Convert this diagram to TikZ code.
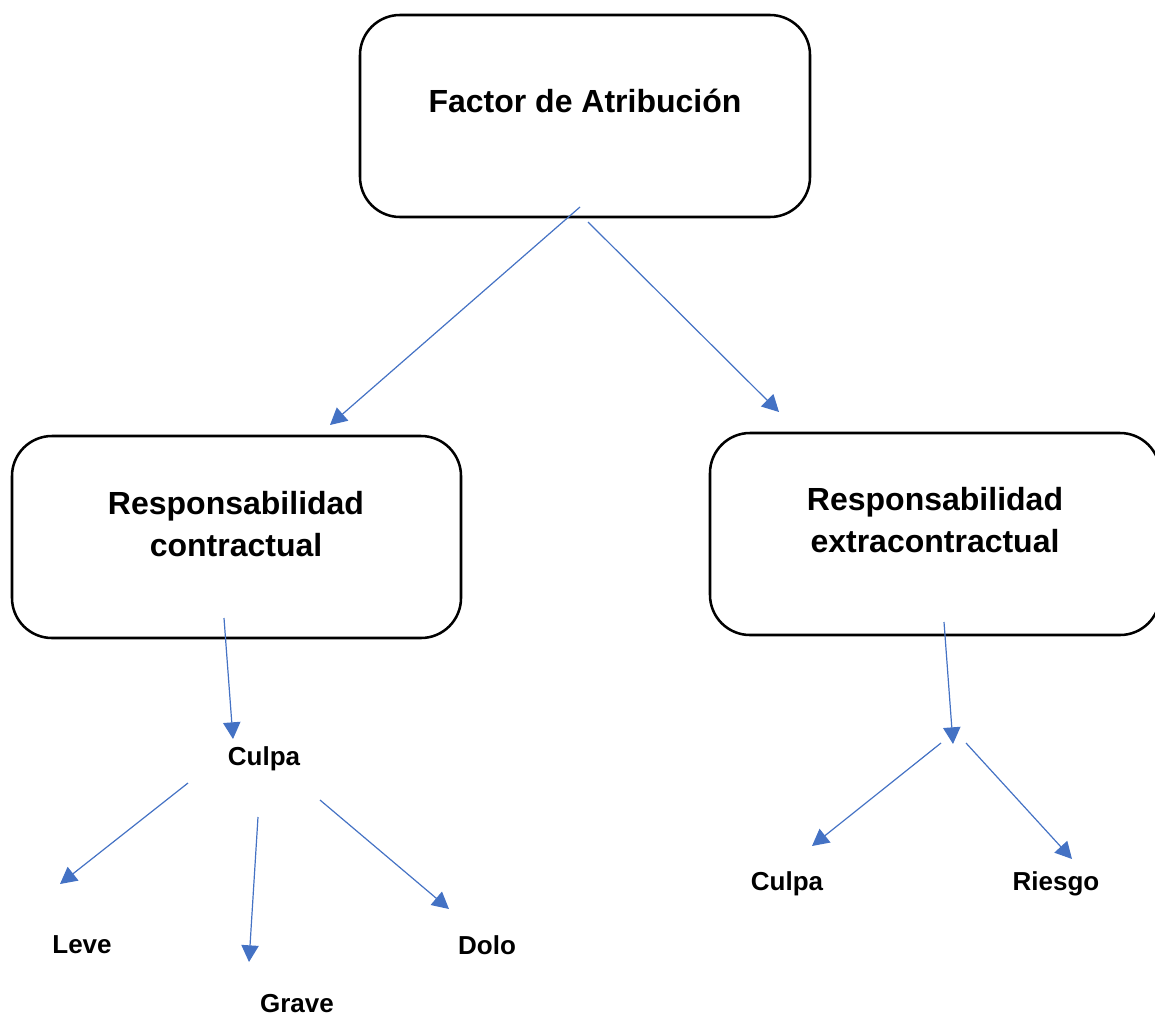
\documentclass[tikz,border=0pt]{standalone}
\usepackage{fontspec}
\setmainfont{Liberation Sans}
\usetikzlibrary{arrows.meta,calc}

\definecolor{flecha}{RGB}{68,114,196}
\tikzset{
  caja/.style={draw=black,line width=1.9pt,rounded corners=30pt},
  titulo/.style={font=\fontsize{24}{32}\selectfont\bfseries,align=center},
  hoja/.style={font=\fontsize{19.5}{24}\selectfont\bfseries},
  fl/.style={draw=flecha,line width=0.9pt,-{Triangle[length=12.5pt,width=13pt]}}
}

\begin{document}
\begin{tikzpicture}[x=0.75pt,y=-0.75pt]
  \useasboundingbox (0,0) rectangle (1155,1017);
  %CAJAS
  \draw[caja] (360,15) rectangle (810,217);
  \draw[caja] (12,436) rectangle (461,638);
  \draw[caja] (710,433) rectangle (1160,635);
  \node[titulo] (factor) at (585,101) {Factor de Atribución};
  \node[titulo] (contr) at (236,524) {Responsabilidad\\contractual};
  \node[titulo] (extra) at (935,520) {Responsabilidad\\extracontractual};
  %HOJAS
  \node[hoja] (culpaA) at (264,759) {Culpa};
  \node[hoja] (leve) at (82,945) {Leve};
  \node[hoja] (grave) at (297,1004) {Grave};
  \node[hoja] (dolo) at (487,945) {Dolo};
  \node[hoja] (culpaB) at (787,884) {Culpa};
  \node[hoja] (riesgo) at (1056,884) {Riesgo};
  %PUNTOS DE LAS FLECHAS
  \coordinate (f1) at (580,207);  \coordinate (c1) at (330,425);
  \coordinate (f2) at (588,222);  \coordinate (e1) at (779,412);
  \coordinate (c2) at (224,618);  \coordinate (ca1) at (233,739);
  \coordinate (e2) at (944,622);  \coordinate (m) at (953,744);
  \coordinate (m1) at (941,743);  \coordinate (cb1) at (812,846);
  \coordinate (m2) at (966,743);  \coordinate (r1) at (1072,859);
  \coordinate (ca2) at (188,783); \coordinate (l1) at (60,884);
  \coordinate (ca3) at (258,817); \coordinate (g1) at (249,962);
  \coordinate (ca4) at (320,800); \coordinate (d1) at (449,909);
  %FLECHAS
  \draw[fl] (f1) -- (c1);
  \draw[fl] (f2) -- (e1);
  \draw[fl] (c2) -- (ca1);
  \draw[fl] (e2) -- (m);
  \draw[fl] (m1) -- (cb1);
  \draw[fl] (m2) -- (r1);
  \draw[fl] (ca2) -- (l1);
  \draw[fl] (ca3) -- (g1);
  \draw[fl] (ca4) -- (d1);
\end{tikzpicture}
\end{document}
